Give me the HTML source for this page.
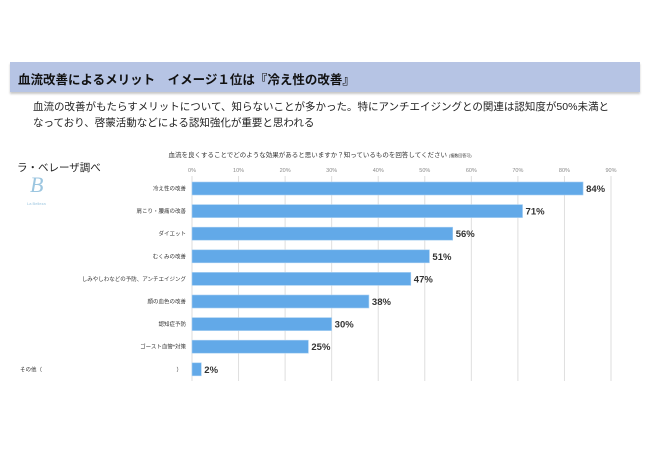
<!DOCTYPE html>
<html><head><meta charset="utf-8"><style>
body{margin:0;width:650px;height:460px;background:#fff;font-family:"Liberation Sans","Noto Sans CJK JP",sans-serif;position:relative;overflow:hidden}
.abs{position:absolute;white-space:nowrap}
</style></head><body>
<div class="abs" style="left:10px;top:62px;width:630px;height:30px;background:#b6c4e4;box-shadow:0 2px 2px #c8c8c8"></div>
<div class="abs" style="left:18px;top:69px;font-size:12.5px;font-weight:bold;color:#111">血流改善によるメリット　イメージ１位は『冷え性の改善』</div>
<div class="abs" style="left:33px;top:99px;font-size:10.5px;line-height:16px;color:#222">血流の改善がもたらすメリットについて、知らないことが多かった。特にアンチエイジングとの関連は認知度が50%未満と<br>なっており、啓蒙活動などによる認知強化が重要と思われる</div>
<div class="abs" style="left:17px;top:160px;font-size:10.5px;color:#222">ラ・ベレーザ調べ</div>
<div class="abs" style="left:30px;top:172px;font-size:22px;font-style:italic;color:#9cc6e0;font-family:'Liberation Serif',serif">B</div>
<div class="abs" style="left:27px;top:201px;font-size:4px;color:#9cc6e0">La Belleza</div>
<svg class="abs" style="left:0;top:0" width="650" height="460">
<text x="320" y="157" text-anchor="middle" font-size="6.5" fill="#333" font-family="Liberation Sans,Noto Sans CJK JP,sans-serif">血流を良くすることでどのような効果があると思いますか？知っているものを回答してください <tspan font-size="4">(複数回答可)</tspan></text>
<g id="grid"></g><g id="bars"></g>
</svg>
<script>
const categories=["冷え性の改善","肩こり・腰痛の改善","ダイエット","むくみの改善","しみやしわなどの予防、アンチエイジング","顔の血色の改善","認知症予防","ゴースト血管*対策","その他（　　　　　　　　　　　　）"];
const values=[84,71,56,51,47,38,30,25,2];
const ticks=[0,10,20,30,40,50,60,70,80,90];
const ns="http://www.w3.org/2000/svg";
const x0=192,x90=611,yTop=182,pitch=22.6,barH=13;
function xs(v){return x0+(x90-x0)*v/90;}
function ys(i){return yTop+i*pitch;}
const grid=document.getElementById('grid'),bars=document.getElementById('bars');
function mk(t,a,p){const e=document.createElementNS(ns,t);for(const k in a)e.setAttribute(k,a[k]);p.appendChild(e);return e;}
ticks.forEach(t=>{
 const l=mk('line',{x1:xs(t),x2:xs(t),y1:176,y2:381,stroke:'#dedede','stroke-width':1},grid);
 
 
 const tx=mk('text',{x:xs(t),y:172,'text-anchor':'middle','font-size':5.5,fill:'#888'},grid);
 tx.textContent=t+'%';
 
 
});
values.forEach((v,i)=>{
 const y=ys(i);
 const r=mk('rect',{x:x0,y:y,width:xs(v)-x0,height:barH,fill:'#62a9e8',stroke:'#a9d0f2','stroke-width':0.6},bars);
 
 
 const vl=mk('text',{x:xs(v)+3,y:y+barH/2+3.5,'font-size':9.5,'font-weight':'bold',fill:'#333'},bars);
 vl.textContent=v+'%';
 
 
 const last=i===categories.length-1;
 const cl=mk('text',{x:last?20:186,y:y+barH/2+2,'text-anchor':last?'start':'end','font-size':5.5,fill:'#333','font-family':'Liberation Sans,Noto Sans CJK JP,sans-serif'},bars);
 cl.textContent=last?'その他（':categories[i];
 
 
 if(last){const c2=mk('text',{x:182,y:y+barH/2+2,'text-anchor':'end','font-size':5.5,fill:'#333'},bars);c2.textContent='）';
 
 }
});
</script>
</body></html>
